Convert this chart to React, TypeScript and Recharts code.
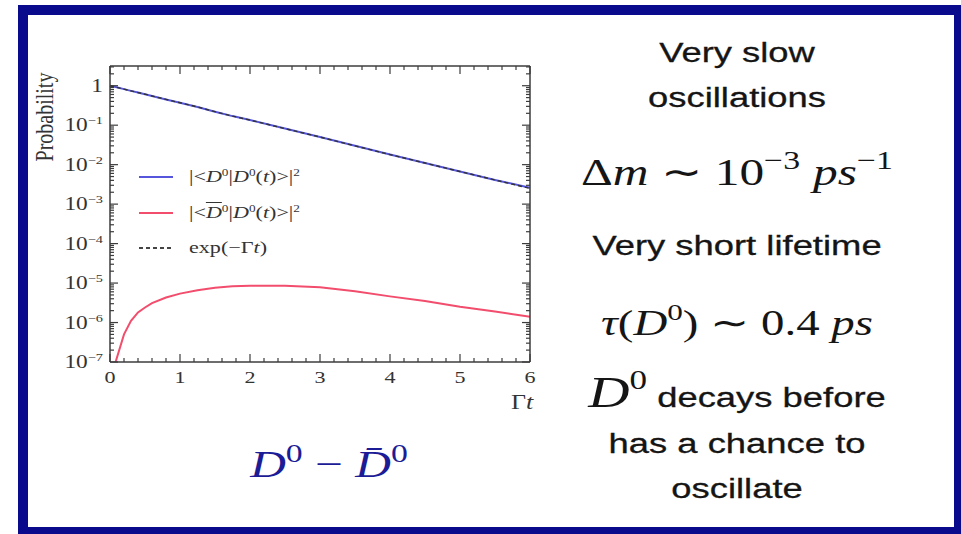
import React from 'react';
import { LineChart, Line, XAxis, YAxis, Legend } from 'recharts';

// values (Γt on x, probability on a log y axis)
const gammaT = [0, 0.08, 0.2, 0.3, 0.4, 0.5, 0.6, 0.8, 1, 1.25, 1.5, 1.75, 2, 2.5, 3, 3.5, 4, 4.5, 5, 5.5, 6];
const probD0D0 = [1, 0.93, 0.82, 0.74, 0.67, 0.61, 0.55, 0.45, 0.37, 0.29, 0.22, 0.17, 0.135, 0.082, 0.05, 0.03, 0.018, 0.011, 0.0067, 0.0041, 0.0026];
const probD0barD0 = [null, 1.0e-7, 5.0e-7, 1.1e-6, 1.8e-6, 2.4e-6, 3.1e-6, 4.3e-6, 5.4e-6, 6.6e-6, 7.6e-6, 8.3e-6, 8.6e-6, 8.5e-6, 7.8e-6, 6.2e-6, 4.6e-6, 3.5e-6, 2.5e-6, 1.9e-6, 1.4e-6];
const expDecay = [1, 0.92, 0.82, 0.74, 0.67, 0.61, 0.55, 0.45, 0.37, 0.29, 0.22, 0.17, 0.135, 0.082, 0.05, 0.03, 0.018, 0.011, 0.0067, 0.0041, 0.0025];

const xMajorTicks = [0, 1, 2, 3, 4, 5, 6];
const yMajorTicks = [1e-7, 1e-6, 1e-5, 1e-4, 1e-3, 1e-2, 1e-1, 1];
const yExponents = [-7, -6, -5, -4, -3, -2, -1, 0];

// minor ticks: 0.2 steps on x, 2..9 per decade on y
const xMinorTicks = xMajorTicks.slice(0, -1).flatMap((m) => [0.2, 0.4, 0.6, 0.8].map((f) => m + f));
const yMinorTicks = yMajorTicks
  .flatMap((d) => [2, 3, 4, 5, 6, 7, 8, 9].map((m) => m * d))
  .filter((v) => v < 3.16);
const xTicks = [...xMajorTicks, ...xMinorTicks];
const yTicks = [...yMajorTicks, ...yMinorTicks];

const data = gammaT.map((t, i) => ({
  t,
  direct: probD0D0[i],
  mixed: probD0barD0[i],
  expo: expDecay[i],
}));

const serif = '"Liberation Serif", "Times New Roman", serif';
const sans = '"Liberation Sans", Arial, sans-serif';
const frame = '#3c3c3c';
const blue = '#5656dc';
const red = '#f24d6c';
const navy = '#0a0a8c';
const ink = '#151515';
const stretch = 1.3;

function LeftTick({ x, y, payload }: any) {
  const idx = yMajorTicks.indexOf(payload.value);
  const major = idx >= 0;
  return (
    <g>
      <line x1={x} x2={x + (major ? 8 : 4)} y1={y} y2={y} stroke={frame} strokeWidth={1.2} />
      {major && (
        <text
          transform={`translate(${x - 7},${y + 6}) scale(${stretch},1)`}
          textAnchor="end"
          fontFamily={serif}
          fontSize={18}
          fill="#333"
        >
          {yExponents[idx] === 0 ? (
            '1'
          ) : (
            <>
              10
              <tspan dy={-7} fontSize={11}>{`−${-yExponents[idx]}`}</tspan>
            </>
          )}
        </text>
      )}
    </g>
  );
}

function RightTick({ x, y, payload }: any) {
  const major = yMajorTicks.includes(payload.value);
  return <line x1={x} x2={x - (major ? 8 : 4)} y1={y} y2={y} stroke={frame} strokeWidth={1.2} />;
}

function BottomTick({ x, y, payload }: any) {
  const major = xMajorTicks.includes(payload.value);
  return (
    <g>
      <line x1={x} x2={x} y1={y} y2={y - (major ? 8 : 4)} stroke={frame} strokeWidth={1.2} />
      {major && (
        <text
          transform={`translate(${x},${y + 21}) scale(${stretch},1)`}
          textAnchor="middle"
          fontFamily={serif}
          fontSize={17}
          fill="#333"
        >
          {payload.value}
        </text>
      )}
    </g>
  );
}

function TopTick({ x, y, payload }: any) {
  const major = xMajorTicks.includes(payload.value);
  return <line x1={x} x2={x} y1={y} y2={y + (major ? 8 : 4)} stroke={frame} strokeWidth={1.2} />;
}

const supStyle = { fontSize: '0.6em', verticalAlign: '0.55em', lineHeight: 0 };

const legendRows = [
  {
    key: 'direct',
    color: blue,
    dash: undefined,
    label: (
      <>
        |&lt;<i>D</i><span style={supStyle}>0</span>|<i>D</i><span style={supStyle}>0</span>(<i>t</i>)&gt;|<span style={supStyle}>2</span>
      </>
    ),
  },
  {
    key: 'mixed',
    color: red,
    dash: undefined,
    label: (
      <>
        |&lt;<i style={{ textDecoration: 'overline' }}>D</i><span style={supStyle}>0</span>|<i>D</i><span style={supStyle}>0</span>(<i>t</i>)&gt;|<span style={supStyle}>2</span>
      </>
    ),
  },
  {
    key: 'expo',
    color: '#444',
    dash: '4 3',
    label: (
      <>
        exp(−Γ<i>t</i>)
      </>
    ),
  },
];

function LegendBox() {
  return (
    <div style={{ position: 'relative', width: 220, height: 110 }}>
      {legendRows.map((row, i) => (
        <div key={row.key} style={{ position: 'absolute', left: 0, top: i * 35.5, height: 24, width: 220 }}>
          <svg width={36} height={24} style={{ position: 'absolute', left: 0, top: 0 }}>
            <line x1={1} x2={35} y1={12} y2={12} stroke={row.color} strokeWidth={2} strokeDasharray={row.dash} />
          </svg>
          <div
            style={{
              position: 'absolute',
              left: 51,
              top: 0,
              lineHeight: '24px',
              fontFamily: serif,
              fontSize: 17,
              color: '#333',
              whiteSpace: 'nowrap',
              transform: `scaleX(${stretch})`,
              transformOrigin: 'left center',
            }}
          >
            {row.label}
          </div>
        </div>
      ))}
    </div>
  );
}

function SansLine({ y, children }: { y: number; children: React.ReactNode }) {
  return (
    <text
      transform={`translate(737,${y}) scale(${stretch},1)`}
      textAnchor="middle"
      fontFamily={sans}
      fontSize={28}
      fill={ink}
      stroke={ink}
      strokeWidth={0.3}
    >
      {children}
    </text>
  );
}

export default function App() {
  return (
    <div
      style={{
        position: 'absolute',
        left: 0,
        top: 0,
        width: 961,
        height: 534,
        background: '#fff',
        overflow: 'hidden',
      }}
    >
      <div
        style={{
          position: 'absolute',
          left: 18,
          top: 5,
          width: 946,
          height: 532,
          boxSizing: 'border-box',
          border: `10px solid ${navy}`,
        }}
      />
      <div style={{ position: 'absolute', left: 0, top: 0 }}>
        <LineChart width={600} height={420} data={data} margin={{ top: 56, right: 60, bottom: 18, left: 60 }}>
          <XAxis
            dataKey="t"
            type="number"
            domain={[0, 6]}
            ticks={xTicks}
            interval={0}
            height={40}
            tickSize={0}
            tickMargin={0}
            tickLine={false}
            tick={<BottomTick />}
            axisLine={{ stroke: frame, strokeWidth: 1.5 }}
            label={{
              content: () => (
                <text transform={`translate(522,409) scale(${stretch},1)`} textAnchor="middle" fontFamily={serif} fontSize={20} fill="#333">
                  Γ<tspan fontStyle="italic">t</tspan>
                </text>
              ),
            }}
          />
          <XAxis
            xAxisId="top"
            orientation="top"
            dataKey="t"
            type="number"
            domain={[0, 6]}
            ticks={xTicks}
            interval={0}
            height={10}
            tickSize={0}
            tickMargin={0}
            tickLine={false}
            tick={<TopTick />}
            axisLine={{ stroke: frame, strokeWidth: 1.5 }}
          />
          <YAxis
            type="number"
            scale="log"
            domain={[1e-7, 3.16]}
            allowDataOverflow
            ticks={yTicks}
            interval={0}
            width={50}
            tickSize={0}
            tickMargin={0}
            tickLine={false}
            tick={<LeftTick />}
            axisLine={{ stroke: frame, strokeWidth: 1.5 }}
            label={{
              content: () => (
                <text transform={`translate(53,117) scale(${stretch},1) rotate(-90)`} textAnchor="middle" fontFamily={serif} fontSize={20} fill="#333">
                  Probability
                </text>
              ),
            }}
          />
          <YAxis
            yAxisId="right"
            orientation="right"
            type="number"
            scale="log"
            domain={[1e-7, 3.16]}
            allowDataOverflow
            ticks={yTicks}
            interval={0}
            width={10}
            tickSize={0}
            tickMargin={0}
            tickLine={false}
            tick={<RightTick />}
            axisLine={{ stroke: frame, strokeWidth: 1.5 }}
          />
          <Legend
            layout="vertical"
            align="center"
            verticalAlign="middle"
            content={() => <LegendBox />}
            wrapperStyle={{ left: 138, top: 165, width: 230 }}
          />
          <Line dataKey="direct" name="direct" stroke={blue} strokeWidth={2} dot={false} isAnimationActive={false} />
          <Line dataKey="mixed" name="mixed" stroke={red} strokeWidth={2} dot={false} isAnimationActive={false} />
          <Line dataKey="expo" name="expo" stroke="#333" strokeWidth={1.4} strokeDasharray="4 3" dot={false} isAnimationActive={false} />
          <Line
            xAxisId="top"
            yAxisId="right"
            dataKey="expo"
            stroke="none"
            dot={false}
            legendType="none"
            isAnimationActive={false}
          />
        </LineChart>
      </div>
      <svg width={961} height={534} style={{ position: 'absolute', left: 0, top: 0, pointerEvents: 'none' }}>
        <SansLine y={62}>Very slow</SansLine>
        <SansLine y={107}>oscillations</SansLine>
        <text transform={`translate(737,185) scale(${stretch},1)`} textAnchor="middle" fontFamily={serif} fontSize={38} fill={ink}>
          Δ<tspan fontStyle="italic">m</tspan> ∼ 10
          <tspan dy={-16} fontSize={26}>−3</tspan>
          <tspan dy={16} dx={10} fontStyle="italic">ps</tspan>
          <tspan dy={-16} fontSize={26}>−1</tspan>
        </text>
        <SansLine y={255}>Very short lifetime</SansLine>
        <text transform={`translate(737,335) scale(${stretch},1)`} textAnchor="middle" fontFamily={serif} fontSize={36} fill={ink}>
          <tspan fontStyle="italic">τ</tspan>(<tspan fontStyle="italic">D</tspan>
          <tspan dy={-15} fontSize={24}>0</tspan>
          <tspan dy={15}>) ∼ 0.4 </tspan>
          <tspan fontStyle="italic">ps</tspan>
        </text>
        <text transform={`translate(737,407) scale(${stretch},1)`} textAnchor="middle" fill={ink}>
          <tspan fontFamily={serif} fontStyle="italic" fontSize={44}>D</tspan>
          <tspan fontFamily={serif} fontSize={27} dy={-18}>0</tspan>
          <tspan fontFamily={sans} fontSize={28} dy={18} stroke={ink} strokeWidth={0.3}> decays before</tspan>
        </text>
        <SansLine y={453}>has a chance to</SansLine>
        <SansLine y={498}>oscillate</SansLine>
        <text transform={`translate(329,477) scale(${stretch},1)`} textAnchor="middle" fontFamily={serif} fontSize={38} fill="#1c1c96">
          <tspan fontStyle="italic">D</tspan>
          <tspan dy={-15} fontSize={26}>0</tspan>
          <tspan dy={15}> − </tspan>
          <tspan fontStyle="italic">{'D\u0304'}</tspan>
          <tspan dy={-15} fontSize={26}>0</tspan>
        </text>
      </svg>
    </div>
  );
}
